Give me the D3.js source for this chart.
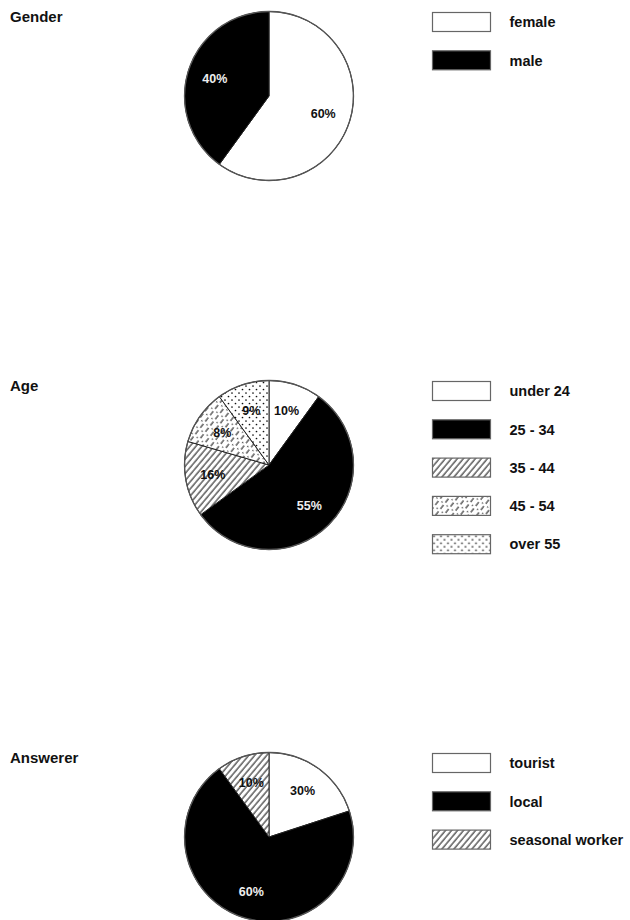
<!DOCTYPE html>
<html>
<head>
<meta charset="utf-8">
<script src="https://cdn.jsdelivr.net/npm/d3@7"></script>
<style>
  html, body { margin: 0; padding: 0; background: #fff; }
  svg { display: block; font-family: "Liberation Sans", Arial, sans-serif; }
</style>
</head>
<body>
<svg width="630" height="920"></svg>
<script>
// data (slice sizes as drawn, labels as printed)
const titles = ["Gender", "Age", "Answerer"];

const genderCats = ["female", "male"];
const genderVals = [60, 40];
const genderLabels = ["60%", "40%"];

const ageCats = ["under 24", "25 - 34", "35 - 44", "45 - 54", "over 55"];
const ageVals = [10, 55, 14.5, 10.5, 10];
const ageLabels = ["10%", "55%", "16%", "8%", "9%"];

const answererCats = ["tourist", "local", "seasonal worker"];
const answererVals = [20, 70, 10];
const answererLabels = ["30%", "60%", "10%"];

// style: which fill each category gets
const fillOf = {
  "female": "white", "male": "black",
  "under 24": "white", "25 - 34": "black", "35 - 44": "hatch",
  "45 - 54": "dash", "over 55": "dots",
  "tourist": "white", "local": "black", "seasonal worker": "hatch"
};

const svg = d3.select("svg");
const defs = svg.append("defs");

// hatch "/"
const hatch = defs.append("pattern")
  .attr("id", "hatch").attr("patternUnits", "userSpaceOnUse")
  .attr("width", 4.6).attr("height", 4.6)
  .attr("patternTransform", "rotate(40)");
hatch.append("rect").attr("width", 4.6).attr("height", 4.6).attr("fill", "#fff");
hatch.append("line").attr("x1", 1).attr("y1", 0).attr("x2", 1).attr("y2", 4.6)
  .attr("stroke", "#222").attr("stroke-width", 1.1);

// dashed "/" with a few specks
const dash = defs.append("pattern")
  .attr("id", "dash").attr("patternUnits", "userSpaceOnUse")
  .attr("width", 6.5).attr("height", 8)
  .attr("patternTransform", "rotate(38)");
dash.append("rect").attr("width", 6.5).attr("height", 8).attr("fill", "#fff");
dash.append("line").attr("x1", 1).attr("y1", 0).attr("x2", 1).attr("y2", 8)
  .attr("stroke", "#222").attr("stroke-width", 1.1).attr("stroke-dasharray", "5,3");
dash.append("circle").attr("cx", 4.5).attr("cy", 6.5).attr("r", 0.7).attr("fill", "#333");

// dots
const dots = defs.append("pattern")
  .attr("id", "dots").attr("patternUnits", "userSpaceOnUse")
  .attr("width", 7).attr("height", 7);
dots.append("rect").attr("width", 7).attr("height", 7).attr("fill", "#fff");
dots.append("circle").attr("cx", 1.5).attr("cy", 1.5).attr("r", 0.85).attr("fill", "#111");
dots.append("circle").attr("cx", 5).attr("cy", 5).attr("r", 0.85).attr("fill", "#111");

function paint(key) {
  const f = fillOf[key];
  if (f === "white") return "#fff";
  if (f === "black") return "#000";
  return `url(#${f})`;
}

const charts = [
  { cats: genderCats, vals: genderVals, labels: genderLabels, cy: 96 },
  { cats: ageCats, vals: ageVals, labels: ageLabels, cy: 465 },
  { cats: answererCats, vals: answererVals, labels: answererLabels, cy: 837 }
];

const cx = 269, r = 84.5, labelR = 57;
const pie = d3.pie().sort(null).value(d => d.v);
const arc = d3.arc().innerRadius(0).outerRadius(r);
const labelArc = d3.arc().innerRadius(labelR).outerRadius(labelR);

charts.forEach((c, ci) => {
  const rows = c.cats.map((k, i) => ({ k, v: c.vals[i], lab: c.labels[i] }));

  svg.append("text")
    .attr("x", 10).attr("y", c.cy - 74)
    .attr("font-size", 15).attr("font-weight", "bold").attr("fill", "#111")
    .text(titles[ci]);

  const g = svg.append("g").attr("transform", `translate(${cx},${c.cy})`);
  const arcs = pie(rows);

  g.selectAll("path.slice").data(arcs).enter().append("path")
    .attr("class", "slice")
    .attr("d", arc)
    .attr("fill", d => paint(d.data.k))
    .attr("stroke", "#222").attr("stroke-width", 1);

  g.append("circle").attr("r", r)
    .attr("fill", "none").attr("stroke", "#555").attr("stroke-width", 1.3);

  g.selectAll("text.lab").data(arcs).enter().append("text")
    .attr("class", "lab")
    .attr("transform", d => `translate(${labelArc.centroid(d)})`)
    .attr("text-anchor", "middle").attr("dy", "0.36em")
    .attr("font-size", 12.5).attr("font-weight", "bold")
    .attr("fill", d => fillOf[d.data.k] === "black" ? "#eee" : "#111")
    .text(d => d.data.lab);

  // legend
  const y0 = c.cy - 83.5, step = 38.3;
  const lg = svg.append("g");
  const item = lg.selectAll("g").data(rows).enter().append("g")
    .attr("transform", (d, i) => `translate(432.5,${y0 + i * step})`);
  item.append("rect")
    .attr("width", 58).attr("height", 19)
    .attr("fill", d => paint(d.k))
    .attr("stroke", "#666").attr("stroke-width", 1.2);
  item.append("text")
    .attr("x", 77).attr("y", 9.5).attr("dy", "0.36em")
    .attr("font-size", 14.5).attr("font-weight", "bold").attr("fill", "#111")
    .text(d => d.k);
});
</script>
</body>
</html>
